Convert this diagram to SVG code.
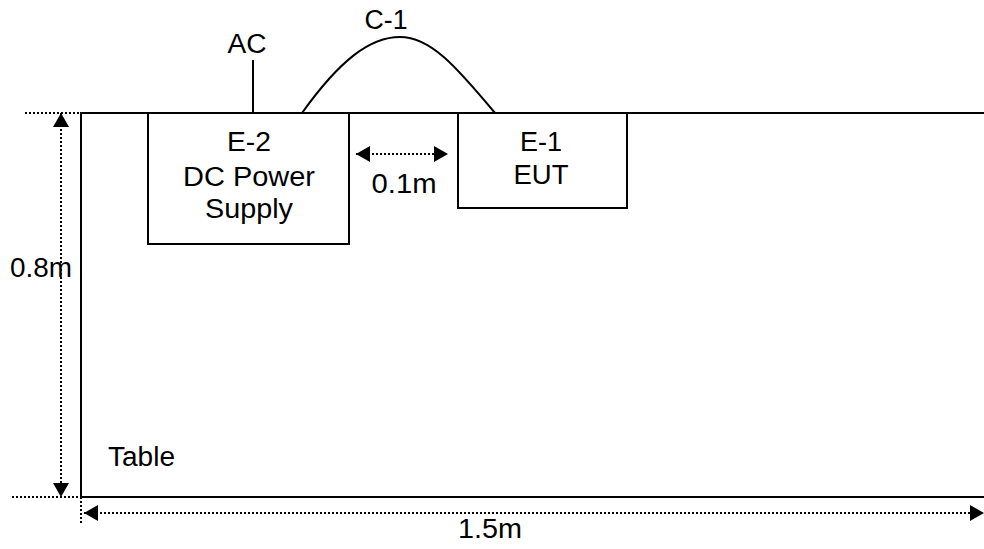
<svg xmlns="http://www.w3.org/2000/svg" width="984" height="549" viewBox="0 0 984 549">
  <style>
    .t { font-family: "Liberation Sans", Arial, sans-serif; font-size: 27px; fill: #000; }
    .m { text-anchor: middle; }
    .solid { fill: none; stroke: #000; stroke-width: 2; }
    .dot { fill: none; stroke: #000; stroke-width: 2; stroke-dasharray: 2 2; }
  </style>
  <defs>
    <marker id="ah" viewBox="0 0 14 16" refX="14" refY="8" markerWidth="14" markerHeight="16" markerUnits="userSpaceOnUse" orient="auto-start-reverse">
      <path d="M0,0 L14,8 L0,16 Z" fill="#000"/>
    </marker>
  </defs>
  <rect width="984" height="549" fill="#fff"/>

  <g id="table">
    <path class="solid" d="M984,113 H81 V497 H984"/>
    <text class="t" x="108" y="466" textLength="67" lengthAdjust="spacingAndGlyphs">Table</text>
  </g>

  <g id="e2">
    <rect class="solid" x="148" y="113" width="201" height="131" fill="#fff"/>
    <text class="t m" x="249" y="151" textLength="44" lengthAdjust="spacingAndGlyphs">E-2</text>
    <text class="t m" x="249" y="186" textLength="132" lengthAdjust="spacingAndGlyphs">DC Power</text>
    <text class="t m" x="249" y="218" textLength="88" lengthAdjust="spacingAndGlyphs">Supply</text>
  </g>

  <g id="e1">
    <rect class="solid" x="458" y="113" width="169" height="95" fill="#fff"/>
    <text class="t m" x="541" y="151" textLength="42" lengthAdjust="spacingAndGlyphs">E-1</text>
    <text class="t m" x="541" y="184" textLength="55" lengthAdjust="spacingAndGlyphs">EUT</text>
  </g>

  <g id="ac">
    <text class="t m" x="247" y="53" textLength="39" lengthAdjust="spacingAndGlyphs">AC</text>
  </g>

  <g id="connectors">
    <line class="solid" x1="253" y1="60" x2="253" y2="113"/>
    <path class="solid" d="M302,113 C340,60 370,37 400,37 C430,37 455,65 495,113"/>
    <text class="t m" x="386" y="29" textLength="43" lengthAdjust="spacingAndGlyphs">C-1</text>

    <line class="dot" x1="356" y1="154" x2="448" y2="154" marker-start="url(#ah)" marker-end="url(#ah)"/>
    <text class="t m" x="404" y="193" textLength="65" lengthAdjust="spacingAndGlyphs">0.1m</text>

    <line class="dot" x1="25" y1="113" x2="81" y2="113"/>
    <line class="dot" x1="12" y1="497" x2="95" y2="497"/>
    <line class="dot" x1="81" y1="497" x2="81" y2="525"/>
    <line class="dot" x1="61" y1="113" x2="61" y2="497" marker-start="url(#ah)" marker-end="url(#ah)"/>
    <text class="t m" x="41" y="277" textLength="62" lengthAdjust="spacingAndGlyphs">0.8m</text>

    <line class="dot" x1="84" y1="513" x2="984" y2="513" marker-start="url(#ah)" marker-end="url(#ah)"/>
    <text class="t m" x="490" y="538" textLength="64" lengthAdjust="spacingAndGlyphs">1.5m</text>
  </g>
</svg>
